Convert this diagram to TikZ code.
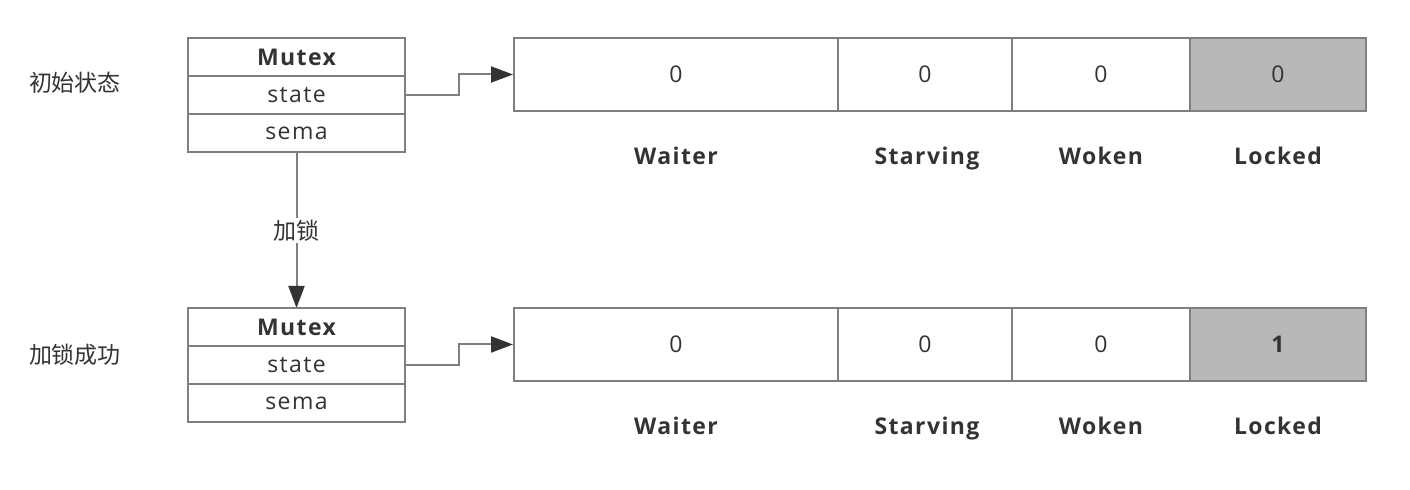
\documentclass[tikz,border=0pt]{standalone}
\usepackage{fontspec}
\setmainfont{Open Sans}[LetterSpace=6]
\newfontfamily\cjk{Noto Sans CJK SC}
\usetikzlibrary{arrows.meta}
\definecolor{linegray}{HTML}{7F7F7F}
\definecolor{textgray}{HTML}{333333}
\definecolor{lockgray}{HTML}{B8B8B8}
\tikzset{
  field/.style={draw=linegray, line width=1pt, minimum width=108.5pt, minimum height=19pt,
    inner sep=0pt, text=textgray, font=\fontsize{11.5}{13}\selectfont},
  cell/.style={draw=linegray, line width=1pt, minimum height=36.5pt, inner sep=0pt,
    text=textgray, font=\fontsize{11.5}{13}\selectfont},
  bitname/.style={anchor=base, text=textgray, font=\fontsize{11.5}{13}\selectfont\bfseries},
  caption/.style={text=textgray, font=\cjk\fontsize{11.5}{13}\selectfont},
  conn/.style={draw=linegray, line width=1pt,
    -{Triangle[length=11pt,width=8pt,color=textgray]}}
}
\begin{document}
\begin{tikzpicture}[x=0.5pt, y=-0.5pt]
    \useasboundingbox (0,0) rectangle (1410,490);

    % initial state
    \node[caption] (cap1) at (75,83) {初始状态};
    \node[field, font=\fontsize{11.5}{13}\selectfont\bfseries] (m1a) at (296.5,57) {Mutex};
    \node[field] (m1b) at (296.5,95) {state};
    \node[field] (m1c) at (296.5,133) {sema};

    \node[cell, minimum width=162pt] (c1a) at (676,74.5) {0};
    \node[cell, minimum width=87pt] (c1b) at (925,74.5) {0};
    \node[cell, minimum width=89pt] (c1c) at (1101,74.5) {0};
    \node[cell, minimum width=88pt, fill=lockgray] (c1d) at (1278,74.5) {0};

    \node[bitname] (n1a) at (676,165) {Waiter};
    \node[bitname] (n1b) at (927,165) {Starving};
    \node[bitname] (n1c) at (1101,165) {Woken};
    \node[bitname] (n1d) at (1278,165) {Locked};

    \draw[conn] (m1b.east) -- ++(53,0) |- (c1a.west);

    % lock
    \draw[conn] (m1c.south) -- (m1c.south |- 0,308)
        node[midway, fill=white, inner sep=1pt, caption] (lk) {加锁};

    % locked state
    \node[caption] (cap2) at (75,355) {加锁成功};
    \node[field, font=\fontsize{11.5}{13}\selectfont\bfseries] (m2a) at (296.5,327) {Mutex};
    \node[field] (m2b) at (296.5,365) {state};
    \node[field] (m2c) at (296.5,403) {sema};

    \node[cell, minimum width=162pt] (c2a) at (676,344.5) {0};
    \node[cell, minimum width=87pt] (c2b) at (925,344.5) {0};
    \node[cell, minimum width=89pt] (c2c) at (1101,344.5) {0};
    \node[cell, minimum width=88pt, fill=lockgray, font=\fontsize{11.5}{13}\selectfont\bfseries] (c2d) at (1278,344.5) {1};

    \node[bitname] (n2a) at (676,435) {Waiter};
    \node[bitname] (n2b) at (927,435) {Starving};
    \node[bitname] (n2c) at (1101,435) {Woken};
    \node[bitname] (n2d) at (1278,435) {Locked};

    \draw[conn] (m2b.east) -- ++(53,0) |- (c2a.west);
\end{tikzpicture}
\end{document}
